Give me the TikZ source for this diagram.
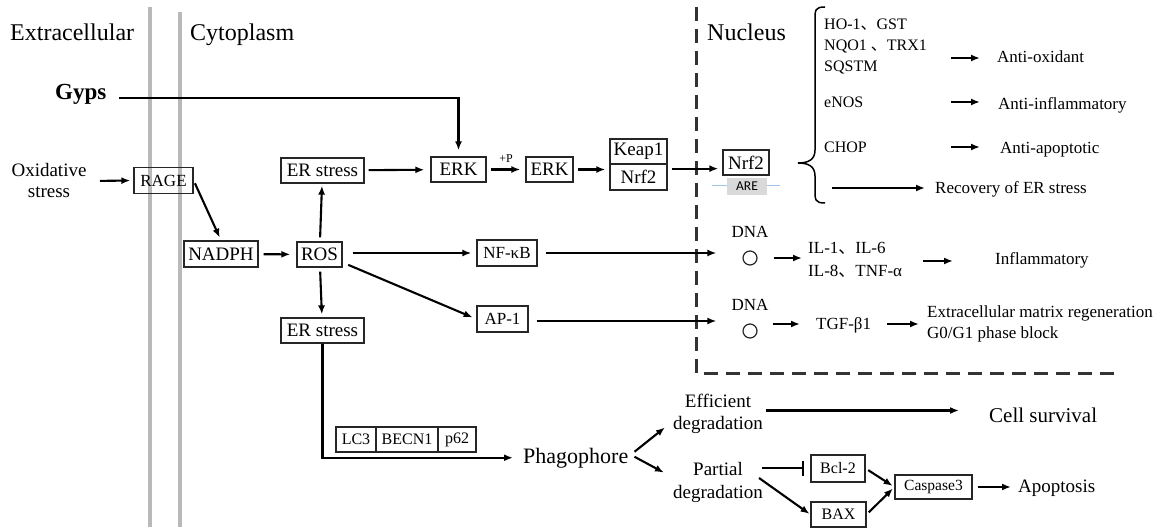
\documentclass[tikz,border=0pt]{standalone}
\usepackage{fontspec}
\setmainfont{Liberation Serif}
\newfontfamily\cjk{Noto Sans CJK SC}
\newfontfamily\arefont{Carlito}
\usetikzlibrary{arrows.meta}
\newcommand\fsz[2]{\fontsize{#1}{#2}\selectfont}
\newcommand\dun{{\cjk 、}}
\definecolor{memb}{RGB}{185,185,185}
\definecolor{arefill}{RGB}{217,217,217}
\definecolor{areline}{RGB}{157,195,230}
\tikzset{
  x=1pt, y=-1pt,
  arr/.style={-{Latex[length=9pt,width=7pt]}, line width=2.1pt},
  inh/.style={-{Bar[width=15pt]}, line width=2.1pt},
  box/.style={draw=black!85, line width=1.3pt, inner sep=0pt, minimum height=25pt, font=\fsz{19}{22}},
  txt/.style={inner sep=0pt},
  head/.style={txt, font=\fsz{24}{28}},
  lbl/.style={txt, font=\fsz{17}{21}},
  gene/.style={txt, font=\fsz{16}{20}, anchor=base west},
  dna/.style={circle, draw=black!85, line width=1.2pt, minimum size=14pt, inner sep=0pt},
}
\begin{document}
\begin{tikzpicture}
\useasboundingbox (0,0) rectangle (1158,529);
% membranes
\draw[memb, line width=3.3pt] (150,7) -- (150,527);
\draw[memb, line width=3.3pt] (180,12) -- (180,527);
% nucleus boundary
\draw[black!80, line width=3pt, dash pattern=on 14pt off 8pt] (696,7) -- (696,373) -- (1118,373);

% headings
\node[head, anchor=base west] (extra) at (10,41) {Extracellular};
\node[head, anchor=base west] (cyto) at (190,41) {Cytoplasm};
\node[head, anchor=base west] (nuc) at (707,41) {Nucleus};
\node[txt, font=\fsz{23}{26}\bfseries, anchor=base west] (gyps) at (55,100) {Gyps};

% cytoplasm nodes
\node[align=center, font=\fsz{19}{21}] (ox) at (49,181) {Oxidative\\stress};
\node[box, minimum width=59pt, minimum height=26pt, font=\fsz{17}{20}] (rage) at (163.5,180.5) {RAGE};
\node[box, minimum width=74pt, minimum height=26pt] (nadph) at (221,254) {NADPH};
\node[box, minimum width=45pt] (ros) at (319.5,254.5) {ROS};
\node[box, minimum width=83pt] (er1) at (322.5,170.5) {ER stress};
\node[box, minimum width=83pt] (er2) at (322.5,330.5) {ER stress};
\node[box, minimum width=55pt] (erk1) at (458.5,169.5) {ERK};
\node[box, minimum width=47pt] (erk2) at (549.5,169.5) {ERK};
\node[box, minimum width=57pt] (keap) at (638.5,151.5) {Keap1};
\node[box, minimum width=57pt, minimum height=26pt] (nrfa) at (638.5,177) {Nrf2};
\node[box, minimum width=60pt, minimum height=26pt, font=\fsz{17}{20}] (nfkb) at (507,253) {NF-κB};
\node[box, minimum width=51pt, minimum height=26pt, font=\fsz{17}{20}] (ap1) at (502.5,319) {AP-1};

% nucleus nodes
\draw[areline, line width=1pt] (712,186) -- (780,186);
\node[box, minimum width=46pt] (nrfn) at (746,162.5) {Nrf2};
\node[fill=arefill, inner sep=0pt, minimum width=40pt, minimum height=17pt, font=\arefont\fsz{13.5}{15}] (are) at (747,186.5) {ARE};

\node[gene] (g1a) at (824,30) {HO-1\dun GST};
\node[gene] (g1b) at (824,51) {NQO1 \dun TRX1};
\node[gene] (g1c) at (824,72) {SQSTM};
\node[gene] (g2) at (824,108) {eNOS};
\node[gene] (g3) at (824,153) {CHOP};
\node[lbl, anchor=base west] (ao) at (997,63) {Anti-oxidant};
\node[lbl, anchor=base west] (ai) at (998,110) {Anti-inflammatory};
\node[lbl, anchor=base west] (aa) at (1000,154) {Anti-apoptotic};
\node[lbl, anchor=base west] (rec) at (935,194) {Recovery of ER stress};

\node[lbl, anchor=base] (dna1) at (750,238) {DNA};
\node[dna] (c1) at (750,258) {};
\node[lbl, anchor=base] (dna2) at (750,310) {DNA};
\node[dna] (c2) at (750,331) {};
\node[lbl, anchor=base west] (il1) at (808,254) {IL-1\dun IL-6};
\node[lbl, anchor=base west] (il2) at (808,276) {IL-8\dun TNF-α};
\node[lbl, anchor=base west] (infl) at (995,265) {Inflammatory};
\node[lbl, anchor=base west] (tgf) at (816,329) {TGF-β1};
\node[lbl, align=left, anchor=west] (ecm) at (927,323.5) {Extracellular matrix regeneration\\G0/G1 phase block};

% autophagy
\node[box, minimum width=40pt, font=\fsz{16}{19}] (lc3) at (356,439.5) {LC3};
\node[box, minimum width=62pt, font=\fsz{16}{19}] (becn) at (407,439.5) {BECN1};
\node[box, minimum width=38pt, font=\fsz{16}{19}] (p62) at (457,439.5) {p62};
\node[txt, font=\fsz{22}{26}, anchor=base west] (phago) at (523,463) {Phagophore};
\node[txt, align=center, font=\fsz{19}{22}] (eff) at (718,413.5) {Efficient\\degradation};
\node[txt, align=center, font=\fsz{19}{23}] (part) at (718,482) {Partial\\degradation};
\node[txt, font=\fsz{21}{24}, anchor=base west] (cell) at (989,422) {Cell survival};
\node[box, minimum width=54pt, minimum height=27pt, font=\fsz{16}{19}] (bcl) at (838,468.5) {Bcl-2};
\node[box, minimum width=55pt, font=\fsz{16}{19}] (bax) at (838.5,514.5) {BAX};
\node[box, minimum width=77pt, minimum height=24pt, font=\fsz{15.5}{18}] (casp) at (933.5,487) {Caspase3};
\node[txt, font=\fsz{19}{22}, anchor=base west] (apop) at (1018,492) {Apoptosis};

% brace
\draw[line width=1.5pt] (825,7) .. controls (815,7) and (815,10) .. (815,20) -- (815,150)
  .. controls (815,160) and (808,163) .. (798,163)
  .. controls (808,163) and (815,166) .. (815,176) -- (815,190)
  .. controls (815,200) and (815,203) .. (825,203);

% connectors
\draw[arr, shorten >=6pt] ([xshift=12pt,yshift=2pt]gyps.base east) -| (erk1.north);
\draw[arr, shorten <=10pt, shorten >=3pt] (ox.east) -- (rage.west);
\draw[arr, shorten <=3pt, shorten >=3pt] (rage.east) -- (nadph.north);
\draw[arr, shorten <=5pt, shorten >=6pt] (nadph) -- (ros);
\draw[arr, shorten <=4pt, shorten >=2pt] (ros) -- (er1);
\draw[arr, shorten <=4pt, shorten >=3pt] (ros) -- (er2);
\draw[arr, shorten <=4pt, shorten >=6pt] (er1) -- (erk1);
\draw[arr, shorten <=4pt, shorten >=5pt] (erk1) -- node[txt, above, yshift=6pt, font=\fsz{12}{14}] (plusp) {+P} (erk2);
\draw[arr, shorten <=4pt, shorten >=4pt] (erk2.east) -- (erk2.east -| nrfa.west);
\coordinate (kn) at ([yshift=-4pt]keap.south east);
\draw[arr, shorten <=4pt, shorten >=4pt] (kn) -- (kn -| nrfn.west);

\coordinate (s1) at (951,58);
\coordinate (s2) at (951,102);
\coordinate (s3) at (951,147);
\coordinate (s4) at (832,188);
\draw[arr, shorten >=17pt] (s1) -- (s1 -| ao.west);
\draw[arr, shorten >=18pt] (s2) -- (s2 -| ai.west);
\draw[arr, shorten >=20pt] (s3) -- (s3 -| aa.west);
\draw[arr, shorten >=10pt] (s4) -- (s4 -| rec.west);

\draw[arr, shorten <=10pt, shorten >=5pt] (ros.east |- nfkb.west) -- (nfkb.west);
\draw[arr, shorten <=6pt, shorten >=4pt] ([yshift=-8pt]ros.east) -- (ap1.west);
\draw[arr, shorten <=8pt, shorten >=26pt] (nfkb.east) -- (nfkb.east -| c1.west);
\draw[arr, shorten <=8pt, shorten >=26pt] ([yshift=-2pt]ap1.east) -- ([yshift=-2pt]ap1.east -| c2.west);
\draw[arr, shorten <=16pt, shorten >=6pt] (c1.east) -- (c1.east -| il1.west);
\coordinate (s5) at (923,261);
\draw[arr, shorten >=42pt] (s5) -- (s5 -| infl.west);
\draw[arr, shorten <=15pt, shorten >=16pt] ([yshift=7pt]c2.east) -- ([yshift=7pt]c2.east -| tgf.west);
\coordinate (s6) at (887,324);
\draw[arr, shorten >=8pt] (s6) -- (s6 -| ecm.west);

\draw[arr, shorten >=10pt] (er2.south) |- (phago.west);
\draw[arr] ([xshift=6pt,yshift=6pt]phago.east) -- ([xshift=-8pt,yshift=6pt]eff.south west);
\draw[arr] ([xshift=6pt,yshift=1pt]phago.east) -- ([xshift=-9pt,yshift=-11pt]part.north west);
\coordinate (e1) at ([xshift=3pt,yshift=3pt]eff.east);
\draw[arr, shorten >=30pt] (e1) -- (e1 -| cell.west);
\coordinate (e2) at ([xshift=-1pt,yshift=14pt]part.east);
\draw[inh, shorten >=6pt] (e2) -- (e2 -| bcl.west);
\draw[arr, shorten >=1pt] ([xshift=-4pt,yshift=4pt]part.east) -- (bax.west);
\draw[arr, shorten <=3pt, shorten >=2pt] (bcl.east) -- (casp.west);
\draw[arr, shorten <=3pt, shorten >=2pt] (bax.east) -- (casp.west);
\draw[arr, shorten <=5pt, shorten >=7pt] (casp.east) -- (casp.east -| apop.west);
\end{tikzpicture}
\end{document}
